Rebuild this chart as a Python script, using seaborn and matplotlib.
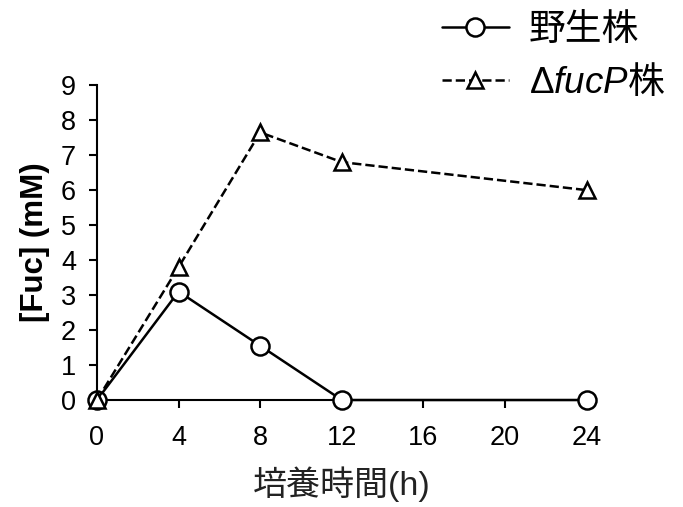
import pandas as pd
import matplotlib.pyplot as plt
import seaborn as sns
import numpy as np

# data
hours = [0, 4, 8, 12, 24]
wild_type = [0.0, 3.1, 1.55, 0.0, 0.0]
fucp_mutant = [0.0, 3.8, 7.65, 6.8, 6.0]
x_ticks = [0, 4, 8, 12, 16, 20, 24]
y_ticks = list(range(0, 10))

sns.set_style('white')
plt.rcParams['font.family'] = ['Liberation Sans', 'Noto Sans CJK JP', 'DejaVu Sans']
plt.rcParams['mathtext.fontset'] = 'custom'
plt.rcParams['mathtext.it'] = 'Liberation Sans:italic'
plt.rcParams['mathtext.rm'] = 'Noto Sans CJK JP'
plt.rcParams['text.color'] = 'black'

fig = plt.figure(figsize=(6.83, 5.07), dpi=100)
ax = fig.add_axes([0.142, 0.211, 0.717, 0.621])

sns.lineplot(x=hours, y=wild_type, ax=ax, color='black', linewidth=1.8,
             marker='o', markersize=13, markerfacecolor='white',
             markeredgecolor='black', markeredgewidth=1.8,
             label='野生株', clip_on=False, zorder=3)
sns.lineplot(x=hours, y=fucp_mutant, ax=ax, color='black', linewidth=1.8,
             linestyle='--', marker='^', markersize=12, markerfacecolor='white',
             markeredgecolor='black', markeredgewidth=1.8,
             label='Δ$\\it{fucP}\\mathrm{株}$', clip_on=False, zorder=3)

ax.set_xlim(0, 24)
ax.set_ylim(0, 9)
ax.set_xticks(x_ticks)
ax.set_yticks(y_ticks)
ax.tick_params(axis='both', labelsize=19.5, length=6, width=1.5,
               direction='out', left=True, bottom=True,
               color='black', labelcolor='black')
ax.tick_params(axis='x', pad=12)
ax.tick_params(axis='y', pad=9)
for side in ['top', 'right']:
    ax.spines[side].set_visible(False)
for side in ['left', 'bottom']:
    ax.spines[side].set_linewidth(1.5)
    ax.spines[side].set_color('black')

ax.set_xlabel('培養時間(h)', fontsize=24.5, labelpad=11, color='#222222')
ax.set_ylabel('[Fuc] (mM)', fontsize=22.5, fontweight='bold', labelpad=8,
              color='black')

handles, labels = ax.get_legend_handles_labels()
ax.get_legend().remove()
fig.legend(handles, labels, loc='upper right', bbox_to_anchor=(1.022, 1.04),
           frameon=False, fontsize=26.5, handlelength=1.8, handletextpad=0.55,
           labelspacing=0.4)

plt.savefig('out.png', dpi=100)
plt.close()
